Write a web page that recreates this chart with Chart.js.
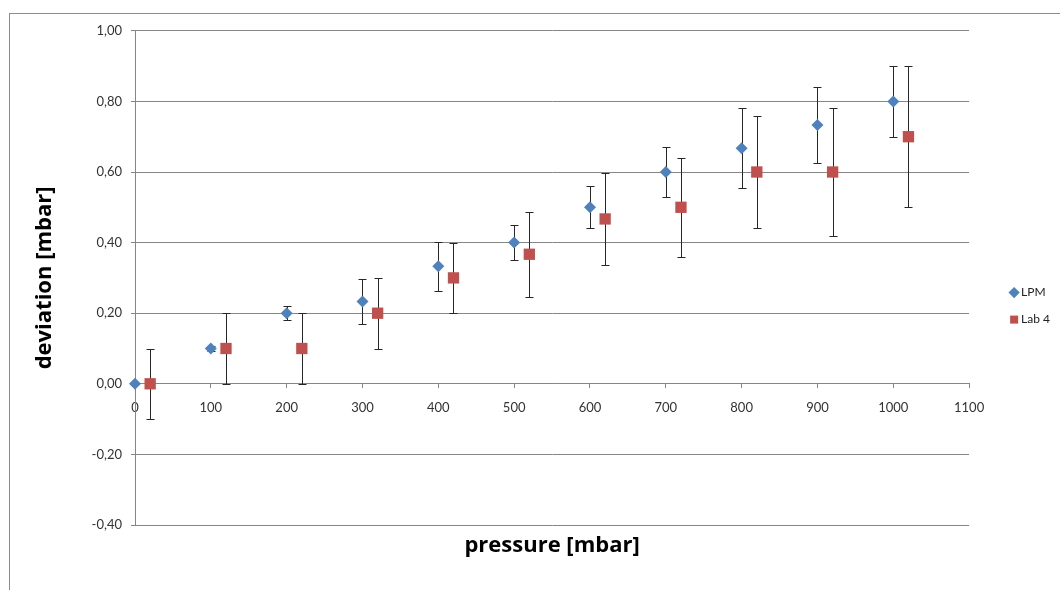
<!DOCTYPE html>
<html>
<head>
<meta charset="utf-8">
<script src="https://cdn.jsdelivr.net/npm/chart.js@4"></script>
<style>
  html, body { margin: 0; padding: 0; background: #fff; overflow: hidden; }
  #frame { position: absolute; left: 9px; top: 13px; width: 1100px; height: 640px; border: 1px solid #8c8c8c; }
  #wrap { position: absolute; left: 0; top: 0; width: 1050px; height: 576px; }
</style>
</head>
<body>
<div id="frame"><div id="wrap"><canvas id="myChart"></canvas></div></div>
<script>
// values
const lpmPressure = [0, 100, 200, 300, 400, 500, 600, 700, 800, 900, 1000];
const lpmDeviation = [0, 0.1, 0.2, 0.233, 0.333, 0.4, 0.5, 0.6, 0.667, 0.733, 0.8];
const lpmError = [0, 0.006, 0.02, 0.065, 0.07, 0.05, 0.06, 0.07, 0.113, 0.107, 0.1];

const labPressure = [20, 120, 220, 320, 420, 520, 620, 720, 820, 920, 1020];
const labDeviation = [0, 0.1, 0.1, 0.2, 0.3, 0.367, 0.467, 0.5, 0.6, 0.6, 0.7];
const labError = [0.1, 0.1, 0.1, 0.1, 0.1, 0.12, 0.13, 0.14, 0.16, 0.18, 0.2];

const errors = [lpmError, labError];

const gridColor = "#868686";
const tickFont = "Lato";
const titleFont = "Open Sans";

function toPoints(xs, ys) {
  return xs.map((x, i) => ({ x: x, y: ys[i] }));
}

// error bars drawn through the chart scales, under the markers
const errorBars = {
  id: "errorBars",
  beforeDatasetsDraw(chart) {
    const ctx = chart.ctx;
    const xs = chart.scales.x;
    const ys = chart.scales.y;
    ctx.save();
    ctx.strokeStyle = "#262626";
    ctx.lineWidth = 1;
    chart.data.datasets.forEach((ds, d) => {
      ds.data.forEach((p, i) => {
        const e = errors[d][i];
        if (!e) return;
        const x = Math.round(xs.getPixelForValue(p.x)) + 0.5;
        const top = Math.round(ys.getPixelForValue(p.y + e)) + 0.5;
        const bot = Math.round(ys.getPixelForValue(p.y - e)) + 0.5;
        ctx.beginPath();
        ctx.moveTo(x, top);
        ctx.lineTo(x, bot);
        ctx.moveTo(x - 4, top);
        ctx.lineTo(x + 4, top);
        ctx.moveTo(x - 4, bot);
        ctx.lineTo(x + 4, bot);
        ctx.stroke();
      });
    });
    ctx.restore();
  },
};

const ctx = document.getElementById("myChart").getContext("2d");
const chart = new Chart(ctx, {
  type: "scatter",
  data: {
    datasets: [
      {
        label: "LPM",
        data: toPoints(lpmPressure, lpmDeviation),
        pointStyle: "rectRot",
        pointRadius: 6,
        backgroundColor: "#4F81BD",
        borderColor: "#4F81BD",
        borderWidth: 0,
        clip: false,
      },
      {
        label: "Lab 4",
        data: toPoints(labPressure, labDeviation),
        pointStyle: "rect",
        pointRadius: 8,
        backgroundColor: "#C0504D",
        borderColor: "#C0504D",
        borderWidth: 0,
        clip: false,
      },
    ],
  },
  options: {
    responsive: true,
    maintainAspectRatio: false,
    animation: false,
    layout: { padding: { left: 18, top: 16, bottom: 27, right: 0 } },
    plugins: {
      tooltip: { enabled: false },
      legend: {
        position: "right",
        // blank title only pushes the two entries a little lower
        title: { display: true, text: " ", font: { size: 1 }, padding: { top: 0, bottom: 18 } },
        labels: {
          usePointStyle: true,
          boxWidth: 2,
          boxHeight: 8,
          padding: 15,
          color: "#222",
          font: { family: tickFont, size: 12 },
        },
      },
    },
    scales: {
      x: {
        type: "linear",
        position: { y: 0 },
        min: 0,
        max: 1100,
        ticks: {
          stepSize: 100,
          padding: 12,
          color: "#333",
          font: { family: tickFont, size: 13 },
          callback: (v) => String(v),
        },
        grid: { drawOnChartArea: false, tickLength: 4, color: gridColor },
        border: { color: gridColor },
        afterFit: (s) => { s.height = 0; },
      },
      x2: {
        type: "linear",
        position: "bottom",
        min: 0,
        max: 1100,
        ticks: { display: false },
        grid: { display: false, drawTicks: false },
        border: { display: false },
        title: {
          display: true,
          text: "pressure [mbar]",
          color: "#000",
          font: { family: titleFont, size: 22, weight: "bold" },
        },
        afterFit: (s) => { s.height = 38; },
      },
      y: {
        type: "linear",
        min: -0.4,
        max: 1.0,
        ticks: {
          stepSize: 0.2,
          padding: 9,
          color: "#333",
          font: { family: tickFont, size: 13 },
          callback: (v) => (Math.abs(v) < 1e-9 ? 0 : v).toFixed(2).replace(".", ","),
        },
        grid: { color: gridColor, tickLength: 4 },
        border: { color: gridColor },
        title: {
          display: true,
          text: "deviation [mbar]",
          color: "#000",
          font: { family: titleFont, size: 22, weight: "bold" },
        },
        afterFit: (s) => { s.width = 107; },
      },
      // empty axis that only keeps a gap between the plot and the legend
      y2: {
        type: "linear",
        position: "right",
        ticks: { display: false },
        grid: { display: false, drawTicks: false },
        border: { display: false },
        afterFit: (s) => { s.width = 29; },
      },
    },
  },
  plugins: [errorBars],
});
</script>
</body>
</html>
